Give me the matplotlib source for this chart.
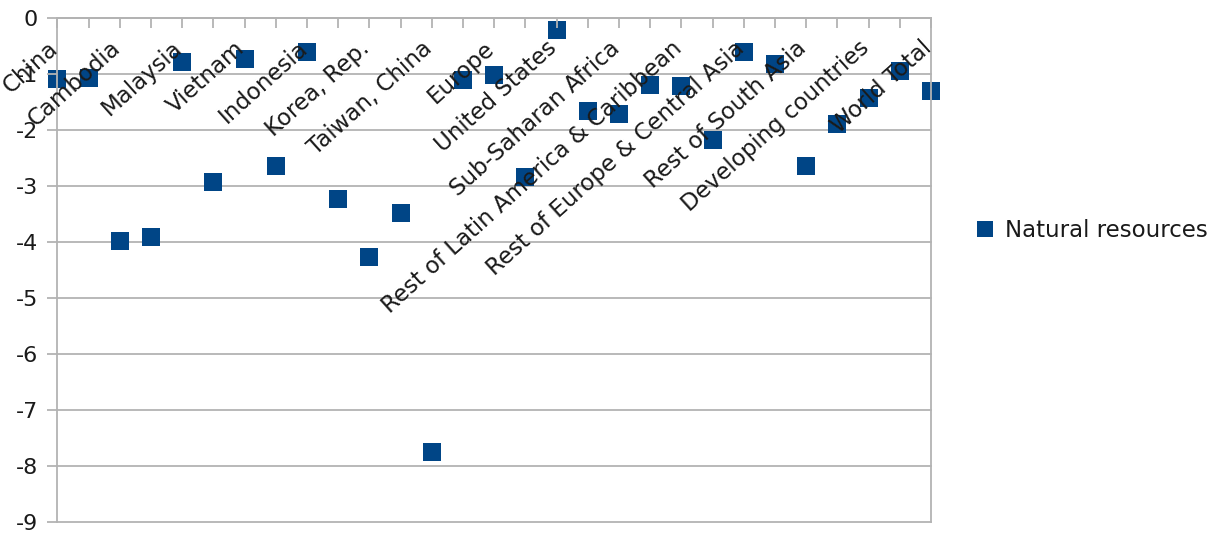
import matplotlib.pyplot as plt
from matplotlib.lines import Line2D
from matplotlib.transforms import ScaledTranslation

# change per region, natural resources (%)
values = [-1.08, -1.06, -3.98, -3.91, -0.78, -2.93, -0.73, -2.64, -0.60, -3.23,
          -4.26, -3.47, -7.75, -1.10, -1.01, -2.84, -0.21, -1.65, -1.71, -1.19,
          -1.21, -2.18, -0.60, -0.82, -2.64, -1.89, -1.43, -0.94, -1.30]
# only every other category gets a label on the axis
regions = ["China", "Cambodia", "Malaysia", "Vietnam", "Indonesia", "Korea, Rep.",
           "Taiwan, China", "Europe", "United States", "Sub-Saharan Africa",
           "Rest of Latin America & Caribbean", "Rest of Europe & Central Asia",
           "Rest of South Asia", "Developing countries", "World Total"]
series_name = "Natural resources"
yticks = [0, -1, -2, -3, -4, -5, -6, -7, -8, -9]

blue = "#004586"
grey = "#b3b3b3"
text_col = "#1a1a1a"

plt.rcParams["font.family"] = ["DejaVu Sans"]
plt.rcParams["font.size"] = 16

fig = plt.figure(figsize=(12.25, 5.33), dpi=100)
ax = fig.add_axes([0.0468, 0.0212, 0.7132, 0.9441])

x = list(range(len(values)))
ax.set_xlim(0, len(values) - 1)
ax.set_ylim(-9, 0)

for y in yticks:
    ax.axhline(y, color=grey, lw=1.3, zorder=0.5, clip_on=False)

ax.plot(x, values, "s", ms=13.6, mew=0, color=blue, clip_on=False, zorder=2)

ax.set_axisbelow(False)
ax.spines["top"].set_visible(False)
ax.spines["bottom"].set_position(("data", 0))
for s in ["bottom", "left", "right"]:
    ax.spines[s].set_color(grey)
    ax.spines[s].set_linewidth(1.3)

labels = []
for i in x:
    labels.append(regions[i // 2] if i % 2 == 0 else "")
ax.set_xticks(x)
ax.set_xticklabels(labels, rotation=42, ha="right", va="top")
ax.tick_params(axis="x", direction="out", length=7, width=1.3, color=grey,
               pad=6, labelcolor=text_col, labelsize=16.5)
shift = ScaledTranslation(5 / 100, 0, fig.dpi_scale_trans)
for lab in ax.get_xticklabels():
    lab.set_transform(lab.get_transform() + shift)

ax.set_yticks(yticks)
ax.set_yticklabels([str(v) for v in yticks])
ax.tick_params(axis="y", direction="out", length=7, width=1.3, color=grey,
               pad=7, labelcolor=text_col, labelsize=16)

handle = Line2D([], [], ls="none", marker="s", ms=12, mew=0, color=blue)
fig.legend([handle], [series_name], loc="center left",
           bbox_to_anchor=(0.795, 0.567), frameon=False, handlelength=1.0,
           handletextpad=0.35, borderpad=0, borderaxespad=0, fontsize=16.5,
           labelcolor=text_col)

fig.savefig("out.png", dpi=100)
